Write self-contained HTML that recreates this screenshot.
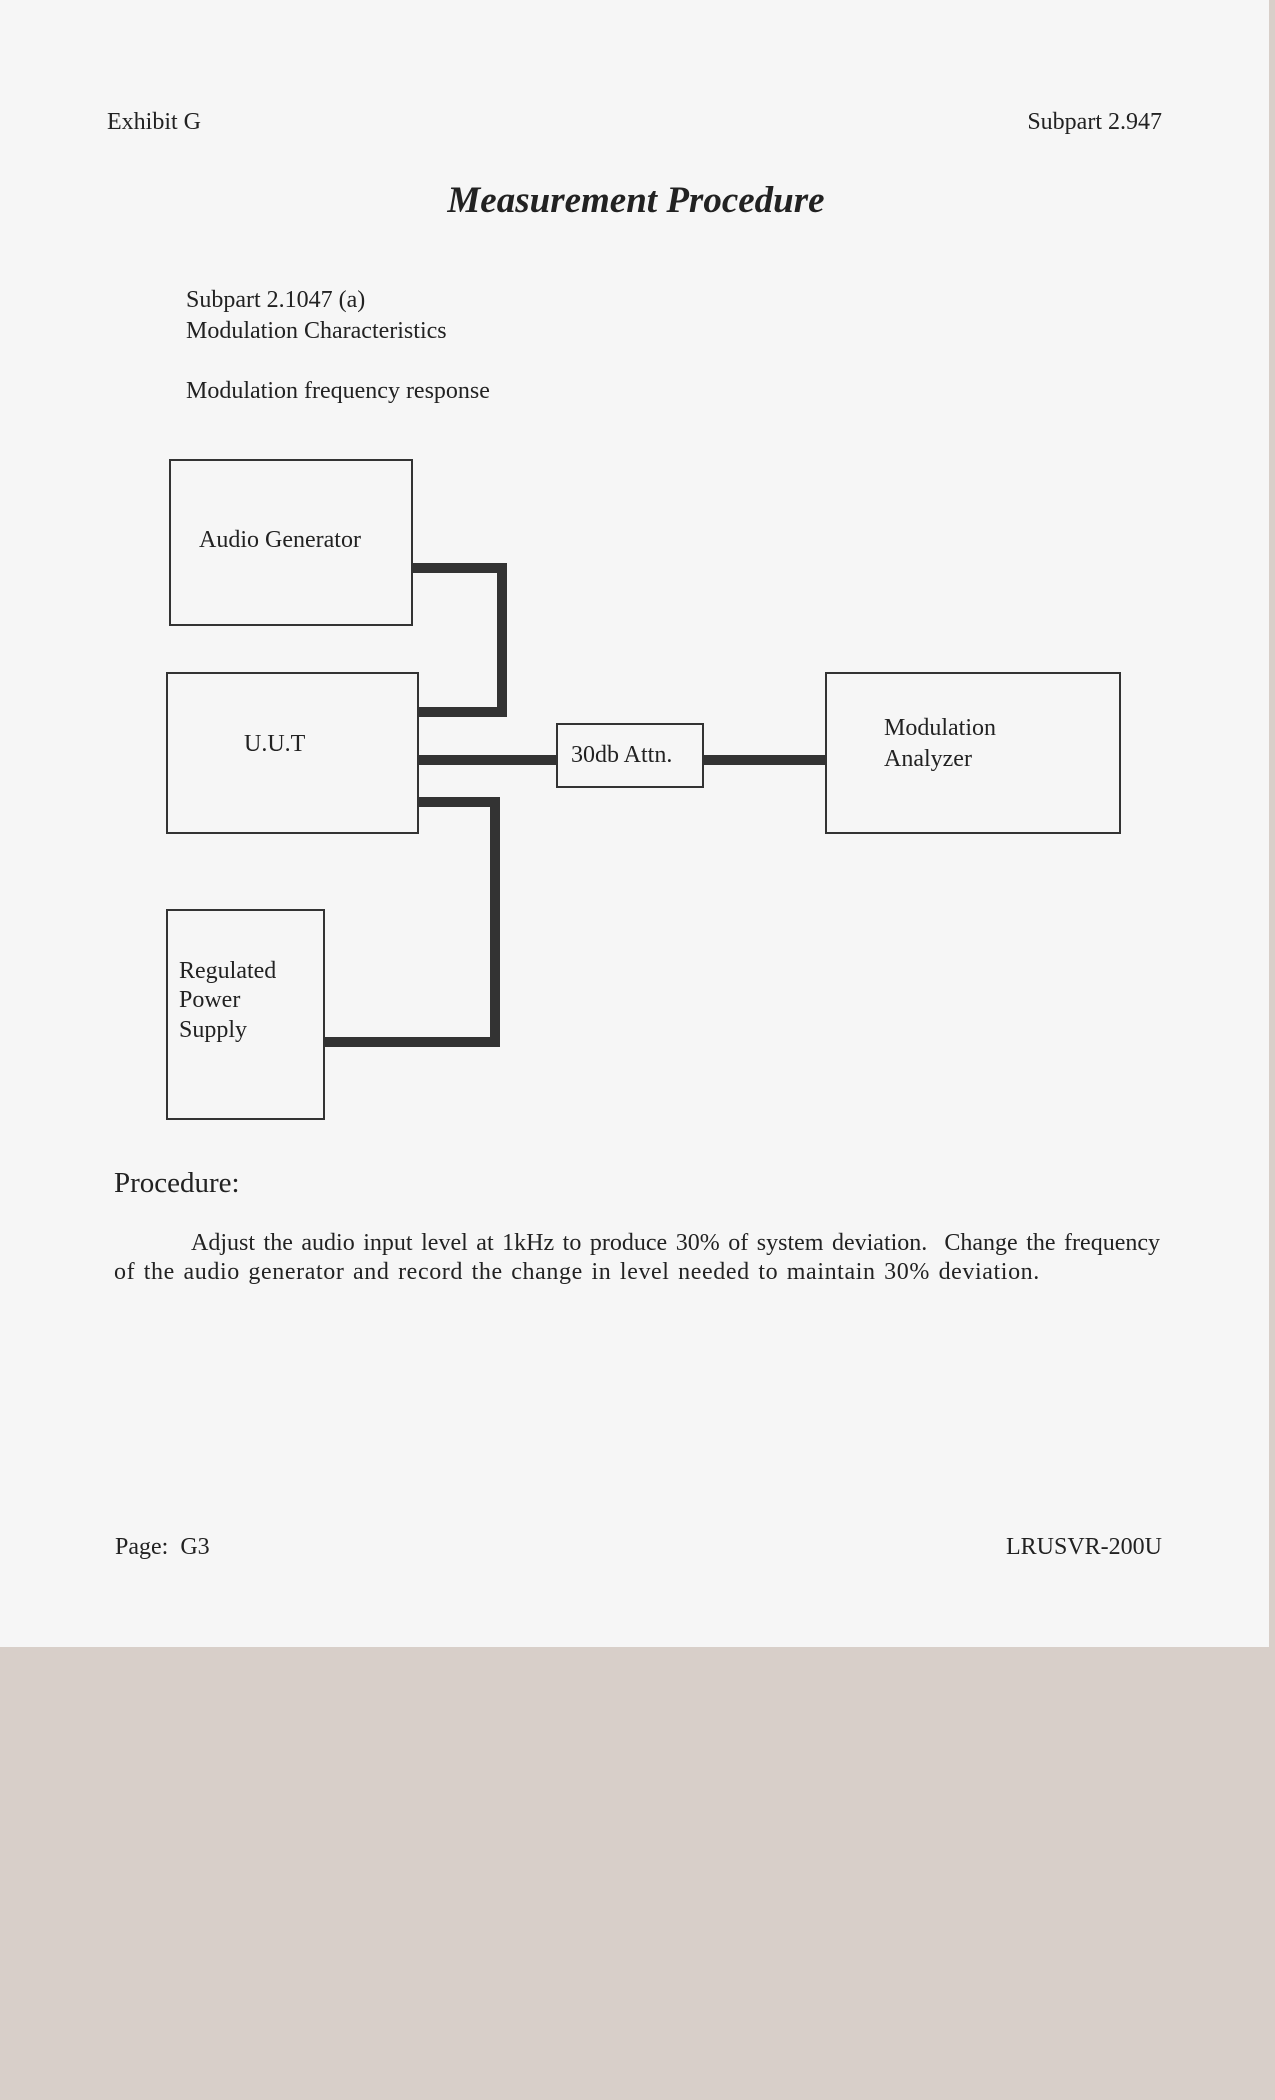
<!DOCTYPE html>
<html><head><meta charset="utf-8"><style>
body{margin:0;width:1275px;height:2100px;background:#d8cfc9;position:relative;overflow:hidden;font-family:"Liberation Serif",serif;color:#222}
.paper{position:absolute;left:0;top:0;width:1269px;height:1647px;background:#f6f6f6}
.t{position:absolute;font-size:24px;line-height:24px;white-space:nowrap}
.b{position:absolute;border:2px solid #333;box-sizing:border-box}
.l{position:absolute;background:#333}
</style></head><body>
<div class="paper"></div>
<div class="t" style="left:107px;top:110px">Exhibit G</div>
<div class="t" style="right:113px;top:110px">Subpart 2.947</div>
<div class="t" style="left:0;width:1272px;text-align:center;top:182px;font-size:37px;line-height:37px;font-weight:bold;font-style:italic">Measurement Procedure</div>
<div class="t" style="left:186px;top:288px">Subpart 2.1047 (a)</div>
<div class="t" style="left:186px;top:319px">Modulation Characteristics</div>
<div class="t" style="left:186px;top:379px">Modulation frequency response</div>

<div class="b" style="left:169px;top:459px;width:244px;height:167px"></div>
<div class="b" style="left:166px;top:672px;width:253px;height:162px"></div>
<div class="b" style="left:166px;top:909px;width:159px;height:211px"></div>
<div class="b" style="left:556px;top:723px;width:148px;height:65px"></div>
<div class="b" style="left:825px;top:672px;width:296px;height:162px"></div>

<div class="l" style="left:412px;top:563px;width:95px;height:10px"></div>
<div class="l" style="left:497px;top:563px;width:10px;height:154px"></div>
<div class="l" style="left:418px;top:707px;width:89px;height:10px"></div>
<div class="l" style="left:418px;top:755px;width:139px;height:10px"></div>
<div class="l" style="left:703px;top:755px;width:123px;height:10px"></div>
<div class="l" style="left:418px;top:797px;width:82px;height:10px"></div>
<div class="l" style="left:490px;top:797px;width:10px;height:250px"></div>
<div class="l" style="left:324px;top:1037px;width:176px;height:10px"></div>

<div class="t" style="left:199px;top:528px">Audio Generator</div>
<div class="t" style="left:244px;top:732px">U.U.T</div>
<div class="t" style="left:571px;top:743px">30db Attn.</div>
<div class="t" style="left:884px;top:716px">Modulation</div>
<div class="t" style="left:884px;top:747px">Analyzer</div>
<div class="t" style="left:179px;top:959px">Regulated</div>
<div class="t" style="left:179px;top:988px">Power</div>
<div class="t" style="left:179px;top:1018px">Supply</div>

<div class="t" style="left:114px;top:1169px;font-size:29px;line-height:29px">Procedure:</div>
<div class="t" style="left:114px;top:1231px;width:1046px;white-space:normal;text-align:justify;text-align-last:justify;text-indent:77px;font-size:24px">Adjust the audio input level at 1kHz to produce 30% of system deviation.&nbsp; Change the frequency</div>
<div class="t" style="left:114px;top:1260px;font-size:24px;letter-spacing:0.6px;word-spacing:2px">of the audio generator and record the change in level needed to maintain 30% deviation.</div>

<div class="t" style="left:115px;top:1535px">Page:&nbsp; G3</div>
<div class="t" style="right:113px;top:1535px">LRUSVR-200U</div>
</body></html>
